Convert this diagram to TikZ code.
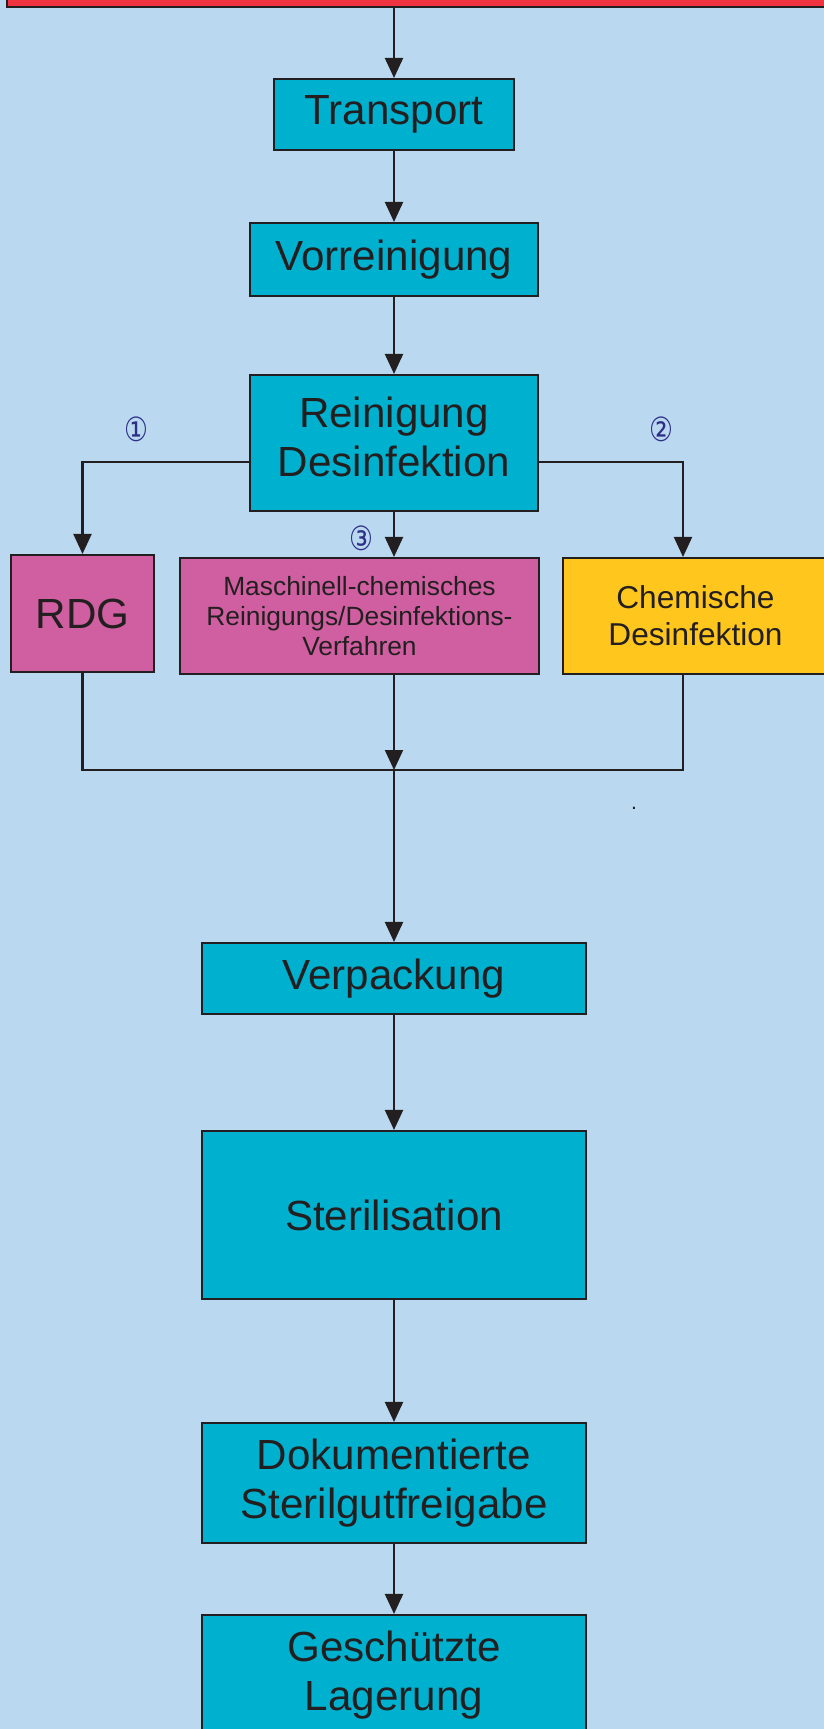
\documentclass[tikz,border=0pt]{standalone}
\usepackage{fontspec}
\setmainfont{Liberation Sans}
\newfontfamily\symfont{DejaVu Sans}
\usetikzlibrary{arrows.meta,calc}

\definecolor{bgblue}{RGB}{186,217,241}
\definecolor{cyanbox}{RGB}{0,177,207}
\definecolor{pinkbox}{RGB}{207,95,160}
\definecolor{yellowbox}{RGB}{255,198,30}
\definecolor{redbox}{RGB}{239,51,64}
\definecolor{inkcol}{RGB}{35,31,32}
\definecolor{numcol}{RGB}{46,46,135}

\newcommand{\bigtext}{\fontsize{24}{28}\selectfont}
\newcommand{\midtext}{\fontsize{18}{21}\selectfont}
\newcommand{\smalltext}{\fontsize{15}{17}\selectfont}

\begin{document}
\begin{tikzpicture}[
    x=0.02cm, y=-0.02cm,
    block/.style={rectangle, draw=inkcol, line width=1.2pt, fill=cyanbox, text=inkcol, align=center, font=\bigtext},
    pinkblock/.style={block, fill=pinkbox},
    yellowblock/.style={block, fill=yellowbox, font=\midtext},
    num/.style={text=numcol, font=\symfont\fontsize{19}{19}\selectfont, inner sep=0pt, xscale=0.8},
    arrow/.style={-{Triangle[length=0.4cm,width=0.36cm]}, line width=1.2pt, draw=inkcol},
    line/.style={line width=1.2pt, draw=inkcol}
]
\useasboundingbox (0,0) rectangle (824,1729);
\fill[bgblue] (0,0) rectangle (824,1729);
\clip (0,0) rectangle (824,1729);

\node[block, fill=redbox, minimum width=16.66cm, minimum height=0.94cm] (start) at (423.5,-16.5) {};
\node[block, minimum width=4.8cm, minimum height=1.42cm] (trans) at (394,114.5) {Transport};
\node[block, minimum width=5.76cm, minimum height=1.46cm] (vorr) at (394,259.5) {Vorreinigung};
\node[block, minimum width=5.76cm, minimum height=2.72cm] (rein) at (394,443) {Reinigung\\Desinfektion\\[-0.73cm]};
\node[pinkblock, minimum width=2.86cm, minimum height=2.34cm] (rdg) at (82.5,613.5) {RDG};
\node[pinkblock, font=\smalltext, minimum width=7.18cm, minimum height=2.32cm] (masch) at (359.5,616) {Maschinell-chemisches\\Reinigungs/Desinfektions-\\Verfahren};
\node[yellowblock, minimum width=5.3cm, minimum height=2.32cm] (chem) at (695.5,616) {Chemische\\Desinfektion};
\node[block, minimum width=7.68cm, minimum height=1.42cm] (verp) at (394,978.5) {Verpackung};
\node[block, minimum width=7.68cm, minimum height=3.36cm] (steril) at (394,1215) {Sterilisation};
\node[block, minimum width=7.68cm, minimum height=2.4cm] (doku) at (394,1483) {Dokumentierte\\Sterilgutfreigabe};
\node[block, minimum width=7.68cm, minimum height=2.4cm] (gesch) at (394,1675) {Geschützte\\Lagerung};

\node[num] (n1) at (136,429) {①};
\node[num] (n2) at (661,429) {②};
\node[num] (n3) at (361,538) {③};
\node[text=inkcol, font=\fontsize{12}{12}\selectfont, inner sep=0pt] (dot) at (634,808) {.};

\coordinate (merge) at (394,770);

\draw[arrow] (start.south -| trans) -- (trans);
\draw[arrow] (trans) -- (vorr);
\draw[arrow] (vorr) -- (rein);
\draw[arrow] ([yshift=-0.38cm]rein.west) -| (rdg.north);
\draw[arrow] ([yshift=-0.38cm]rein.east) -| ([xshift=-0.25cm]chem.north);
\draw[arrow] (rein.south) -- (rein.south |- masch.north);
\draw[line] (rdg.south) |- (merge) -| ([xshift=-0.25cm]chem.south);
\draw[arrow] (masch.south -| merge) -- (merge);
\draw[arrow] (merge) -- (verp);
\draw[arrow] (verp) -- (steril);
\draw[arrow] (steril) -- (doku);
\draw[arrow] (doku) -- (gesch);
\end{tikzpicture}
\end{document}
